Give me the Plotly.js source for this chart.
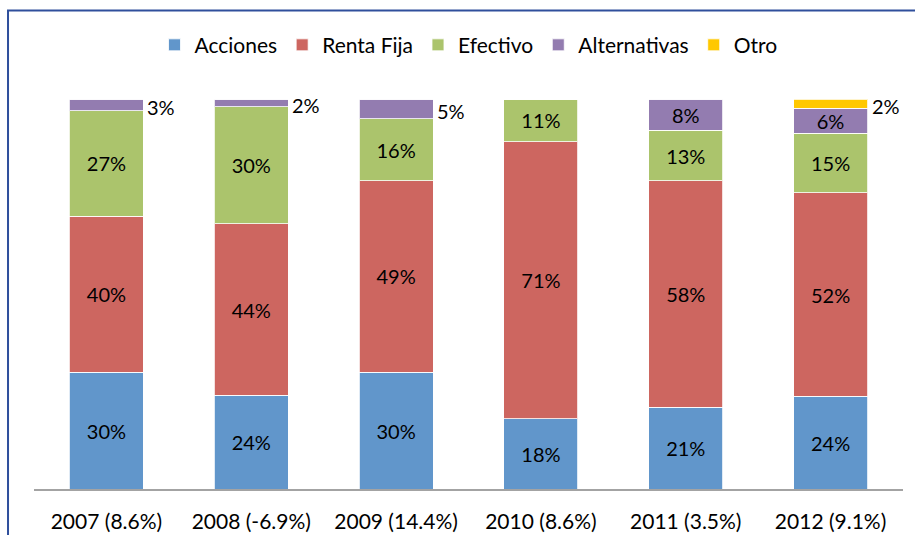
<!DOCTYPE html>
<html>
<head>
<meta charset="utf-8">
<script src="https://cdn.plot.ly/plotly-3.0.1.min.js"></script>
<style>html,body{margin:0;padding:0;background:#fff;}#chart{width:915px;height:535px;}</style>
</head>
<body>
<div id="chart"></div>
<script>
const categories = ["2007 (8.6%)", "2008 (-6.9%)", "2009 (14.4%)", "2010 (8.6%)", "2011 (3.5%)", "2012 (9.1%)"];
const seriesNames = ["Acciones", "Renta Fija", "Efectivo", "Alternativas", "Otro"];
const acciones     = [30, 24, 30, 18, 21, 23.8];
const rentaFija    = [40, 44, 49, 71, 58, 52.1];
const efectivo     = [27, 30, 16, 11, 13, 15.3];
const alternativas = [3, 2, 5, 0, 8, 6.4];
const otro         = [0, 0, 0, 0, 0, 2.4];
const colors = ["#6196CB", "#CD6660", "#ABC46C", "#937CB0", "#FFC800"];

const series = [acciones, rentaFija, efectivo, alternativas, otro];
const FONT = "Lato, 'Open Sans', sans-serif";
const smallLimit = 5;

const traces = series.map((vals, k) => ({
  type: "bar",
  name: seriesNames[k],
  x: categories,
  y: vals,
  marker: {color: colors[k], line: {color: "rgba(255,255,255,0.8)", width: 1}},
  text: vals.map(v => (v > smallLimit ? Math.round(v) + "%" : "")),
  texttemplate: "%{text}",
  textposition: "inside",
  insidetextanchor: "middle",
  constraintext: "none",
  textfont: {family: FONT, size: 20, color: "#000"},
  hoverinfo: "skip"
}));

const annotations = [];
categories.forEach((c, i) => {
  let cum = 0;
  series.forEach((vals, k) => {
    const v = vals[i];
    if (v > 0 && v <= smallLimit) {
      annotations.push({
        x: i + 0.255, y: cum + v / 2, xref: "x", yref: "y",
        text: Math.round(v) + "%", showarrow: false,
        xanchor: "left", yanchor: "middle", xshift: 2, yshift: -2,
        font: {family: FONT, size: 20, color: "#000"}
      });
    }
    cum += v;
  });
});

const layout = {
  width: 915, height: 535,
  margin: {l: 34, r: 12, t: 99, b: 46},
  barmode: "stack",
  bargap: 0.49,
  paper_bgcolor: "#fff", plot_bgcolor: "#fff",
  font: {family: FONT, size: 20, color: "#000"},
  showlegend: true,
  legend: {orientation: "h", x: 0.5, xanchor: "center", y: 1.138, yanchor: "middle",
           font: {family: FONT, size: 21, color: "#000"}, traceorder: "normal", itemclick: false},
  xaxis: {type: "category", showline: true, linecolor: "#A3A3A3", linewidth: 2,
          showgrid: false, zeroline: false, ticks: "", ticklabelstandoff: 13,
          tickfont: {family: FONT, size: 21, color: "#000"}, fixedrange: true},
  yaxis: {range: [0, 100], visible: false, showgrid: false, zeroline: false, fixedrange: true},
  annotations: annotations,
  shapes: [{type: "rect", xref: "paper", yref: "paper",
            x0: -0.0299, x1: 1.1, y0: -0.3, y1: 1.2269,
            line: {color: "#2F4F9C", width: 2}, fillcolor: "rgba(0,0,0,0)", layer: "below"}]
};

Plotly.newPlot("chart", traces, layout, {displayModeBar: false, staticPlot: true});
</script>
</body>
</html>
